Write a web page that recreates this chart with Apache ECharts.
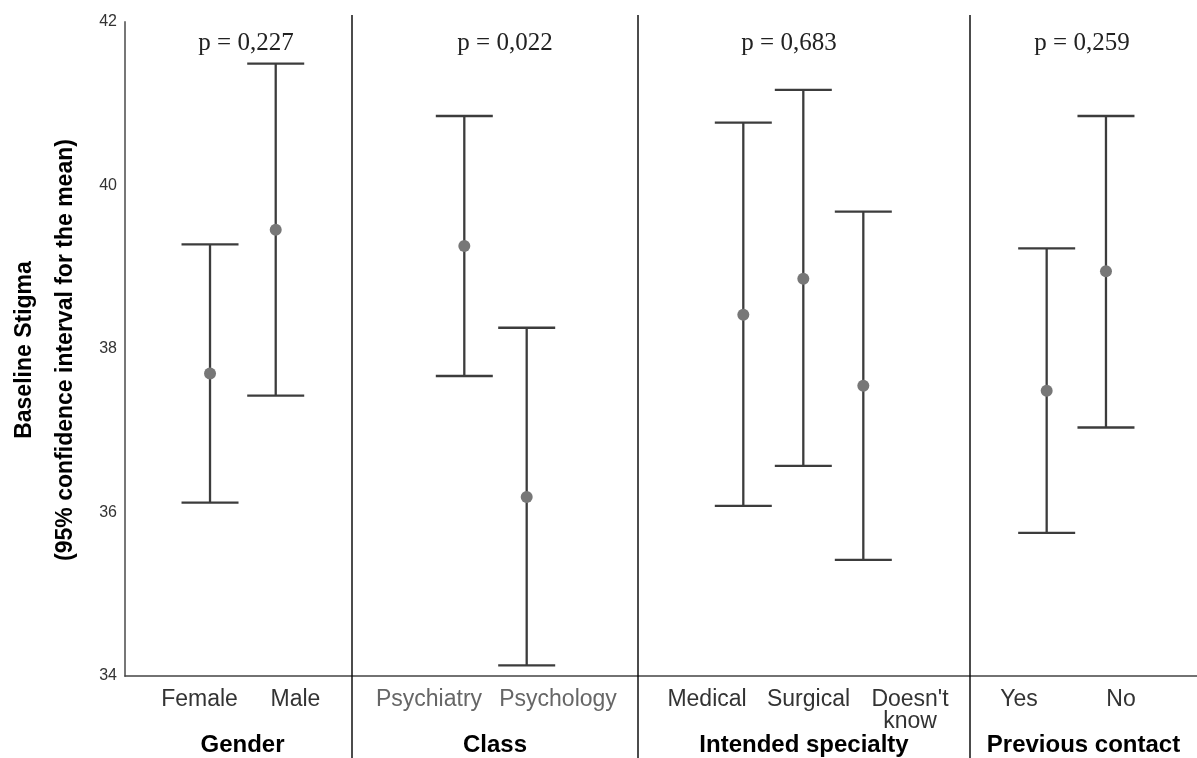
<!DOCTYPE html>
<html>
<head>
<meta charset="utf-8">
<script src="https://cdn.jsdelivr.net/npm/echarts@6/dist/echarts.min.js"></script>
<style>
html,body{margin:0;padding:0;background:#fff;}
#chart{width:1197px;height:758px;}
</style>
</head>
<body>
<div id="chart"></div>
<script>
// ---- data ----
const groups = ['Gender', 'Class', 'Intended specialty', 'Previous contact'];
const pValues = ['p = 0,227', 'p = 0,022', 'p = 0,683', 'p = 0,259'];
const categories = [
  ['Female', 'Male'],
  ['Psychiatry', 'Psychology'],
  ['Medical', 'Surgical', "Doesn't\nknow"],
  ['Yes', 'No']
];
const means = [[37.70, 39.46], [39.26, 36.19], [38.42, 38.86, 37.55], [37.49, 38.95]];
const lower = [[36.12, 37.43], [37.67, 34.13], [36.08, 36.57, 35.42], [35.75, 37.04]];
const upper = [[39.28, 41.49], [40.85, 38.26], [40.77, 41.17, 39.68], [39.23, 40.85]];
const yMin = 34, yMax = 42, yStep = 2;
const yTitle1 = 'Baseline Stigma';
const yTitle2 = '(95% confidence interval for the mean)';

// ---- layout (not data) ----
const panelEdges = [125, 352, 638, 970, 1197];
const plotTop = 22, plotBottom = 82;
const pointRange = [[-1.294, 2.161], [-1.80, 2.784], [-1.755, 3.778], [-1.293, 2.535]];
const labelRange = [[-0.776, 1.589], [-0.597, 1.62], [-0.680, 2.591], [-0.480, 1.745]];
const labelColors = ['#333', '#666', '#333', '#333'];
const pCenters = [246, 505, 789, 1082];
const capHalf = 28.5;

const chart = echarts.init(document.getElementById('chart'));

const grid = [], xAxis = [], yAxis = [], series = [];
for (let i = 0; i < 4; i++) {
  grid.push({left: panelEdges[i], width: panelEdges[i + 1] - panelEdges[i], top: plotTop, bottom: plotBottom});
  xAxis.push({gridIndex: i, type: 'value', position: 'bottom', min: pointRange[i][0], max: pointRange[i][1], show: false,
    axisLine: {onZero: false}});
  xAxis.push({
    gridIndex: i, type: 'value', position: 'bottom', min: labelRange[i][0], max: labelRange[i][1],
    axisLine: {show: true, onZero: false, lineStyle: {color: '#444', width: 1.5}},
    axisTick: {show: false}, splitLine: {show: false},
    axisLabel: {
      customValues: categories[i].map((_, j) => j),
      formatter: v => categories[i][Math.round(v)] || '',
      color: labelColors[i], fontSize: 23, fontFamily: 'Liberation Sans, Arial, sans-serif',
      margin: 13, lineHeight: 22
    }
  });
  yAxis.push({
    gridIndex: i, type: 'value', position: 'left', min: yMin, max: yMax, interval: yStep,
    axisLine: {show: i === 0, onZero: false, lineStyle: {color: '#777', width: 2}},
    axisTick: {show: false}, splitLine: {show: false},
    axisLabel: {show: i === 0, color: '#333', fontSize: 16, fontFamily: 'Liberation Sans, Arial, sans-serif', margin: 8}
  });
  series.push({
    type: 'custom', xAxisIndex: 2 * i, yAxisIndex: i,
    data: categories[i].map((_, j) => [j, lower[i][j], upper[i][j]]),
    encode: {x: 0, y: [1, 2]},
    renderItem: (params, api) => {
      const x = api.value(0);
      const pLo = api.coord([x, api.value(1)]);
      const pHi = api.coord([x, api.value(2)]);
      const st = {stroke: '#3c3c3c', lineWidth: 2.3};
      return {type: 'group', children: [
        {type: 'line', shape: {x1: pLo[0], y1: pLo[1], x2: pHi[0], y2: pHi[1]}, style: st},
        {type: 'line', shape: {x1: pHi[0] - capHalf, y1: pHi[1], x2: pHi[0] + capHalf, y2: pHi[1]}, style: st},
        {type: 'line', shape: {x1: pLo[0] - capHalf, y1: pLo[1], x2: pLo[0] + capHalf, y2: pLo[1]}, style: st}
      ]};
    }
  });
  series.push({
    type: 'scatter', xAxisIndex: 2 * i, yAxisIndex: i, z: 5,
    data: means[i].map((m, j) => [j, m]),
    symbolSize: 12, itemStyle: {color: '#777', opacity: 1}
  });
}

const graphic = [];
for (let i = 1; i < 4; i++) {
  graphic.push({type: 'line', shape: {x1: panelEdges[i], y1: 15, x2: panelEdges[i], y2: 758}, style: {stroke: '#111', lineWidth: 1.5}, z: 10});
}
for (let i = 0; i < 4; i++) {
  graphic.push({type: 'text', x: pCenters[i], y: 43,
    style: {text: pValues[i], font: '25px "Liberation Serif", "DejaVu Serif", serif', fill: '#222', textAlign: 'center', textVerticalAlign: 'middle'}});
  graphic.push({type: 'text', x: (panelEdges[i] + panelEdges[i + 1]) / 2 + (i === 0 ? 4 : 0), y: 745,
    style: {text: groups[i], font: 'bold 24px "Liberation Sans", Arial, sans-serif', fill: '#000', textAlign: 'center', textVerticalAlign: 'middle'}});
}
graphic.push({type: 'text', x: 25, y: 350, rotation: Math.PI / 2,
  style: {text: yTitle1, font: 'bold 23px "Liberation Sans", Arial, sans-serif', fill: '#000', textAlign: 'center', textVerticalAlign: 'middle'}});
graphic.push({type: 'text', x: 66, y: 350, rotation: Math.PI / 2,
  style: {text: yTitle2, font: 'bold 23px "Liberation Sans", Arial, sans-serif', fill: '#000', textAlign: 'center', textVerticalAlign: 'middle'}});

chart.setOption({
  animation: false,
  backgroundColor: '#fff',
  grid, xAxis, yAxis, series, graphic
});
</script>
</body>
</html>
